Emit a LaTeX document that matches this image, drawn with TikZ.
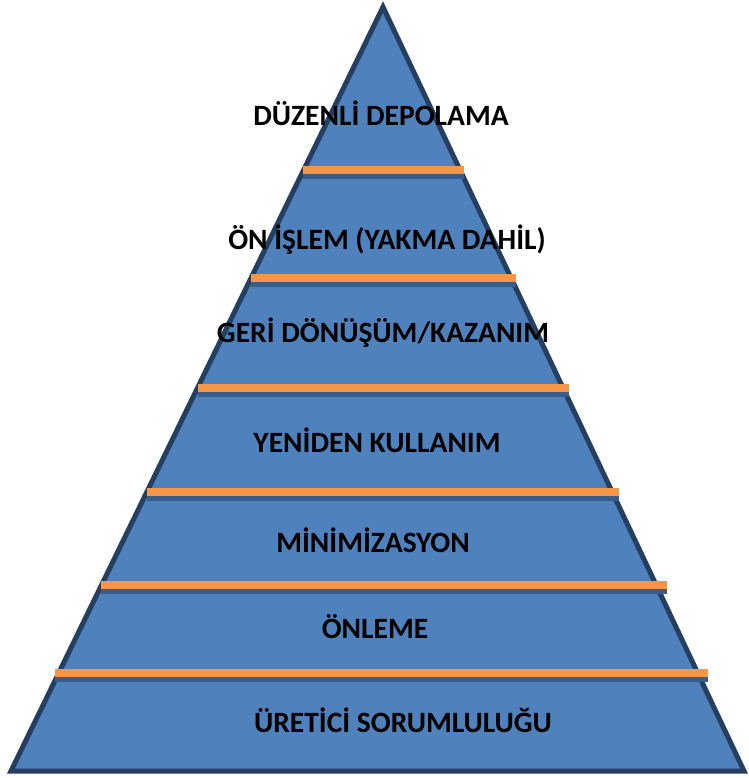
\documentclass[tikz,border=0pt]{standalone}
\usepackage{fontspec}
\setmainfont{Carlito}
\definecolor{pyrfill}{HTML}{4F81BD}
\definecolor{pyredge}{HTML}{243F60}
\definecolor{bandorange}{HTML}{F79646}
\definecolor{bandshade}{HTML}{385D8A}
\begin{document}
\begin{tikzpicture}[x=1pt, y=-1pt,
  pyr/.style={draw=pyredge, fill=pyrfill, line width=5pt, line join=miter},
  band/.style={draw=bandorange, line width=8pt},
  bandsh/.style={draw=bandshade, line width=5pt},
  lbl/.style={font=\bfseries\fontsize{29.5}{34}\selectfont, inner sep=0pt}]
  \useasboundingbox (0,0) rectangle (748,778);
  % pyramid body
  \coordinate (apex) at (383,7);
  \coordinate (bl) at (11,771);
  \coordinate (br) at (744,771);
  \draw[pyr] (apex) -- (bl) -- (br) -- cycle;
  % orange separators with their shadow
  \foreach \y/\xa/\xb in {170/303/464, 278/251/516, 388/198/569,
                          492/147/619, 585/101/667, 673/55/708}{
    \draw[bandsh] (\xa,\y+6) -- (\xb,\y+6);
    \draw[band] (\xa,\y) -- (\xb,\y);}
  % level labels
  \node[lbl] (depolama) at (381,113) {DÜZENLİ DEPOLAMA};
  \node[lbl] (onislem)  at (387,240) {ÖN İŞLEM (YAKMA DAHİL)};
  \node[lbl] (geri)     at (383,333) {GERİ DÖNÜŞÜM/KAZANIM};
  \node[lbl] (yeniden)  at (377,440) {YENİDEN KULLANIM};
  \node[lbl] (minim)    at (373,540) {MİNİMİZASYON};
  \node[lbl] (onleme)   at (375,627) {ÖNLEME};
  \node[lbl] (uretici)  at (403,720) {ÜRETİCİ SORUMLULUĞU};
\end{tikzpicture}
\end{document}
